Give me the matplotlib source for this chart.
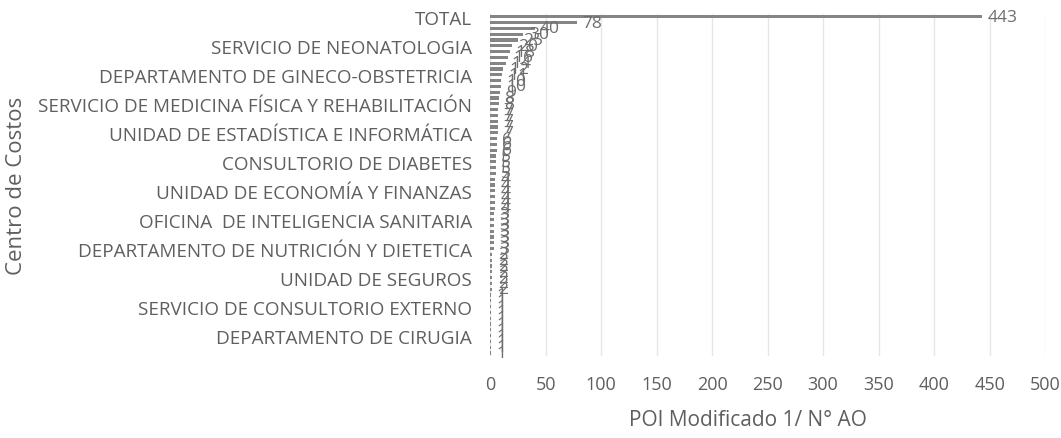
import matplotlib
matplotlib.use("Agg")
import matplotlib.pyplot as plt
import numpy as np

plt.rcParams['font.family'] = ['Open Sans', 'DejaVu Sans']

# Values (top to bottom)
values = [443, 78, 40, 30, 25, 20, 18, 16, 14, 12, 11,
          10, 10, 9, 8, 8, 7, 7, 7, 7, 7, 6, 6, 6, 5, 5, 5, 5,
          4, 4, 4, 4, 4, 4, 3, 3, 3, 3, 3, 3, 3,
          2, 2, 2, 2, 2, 2, 2,
          1, 1, 1, 1, 1, 1, 1, 1, 1, 1, 1]

# Category labels visible on the axis (every 5th bar is labelled)
shown_labels = ["TOTAL",
                "SERVICIO DE NEONATOLOGIA",
                "DEPARTAMENTO DE GINECO-OBSTETRICIA",
                "SERVICIO DE MEDICINA FÍSICA Y REHABILITACIÓN",
                "UNIDAD DE ESTADÍSTICA E INFORMÁTICA",
                "CONSULTORIO DE DIABETES",
                "UNIDAD DE ECONOMÍA Y FINANZAS",
                "OFICINA  DE INTELIGENCIA SANITARIA",
                "DEPARTAMENTO DE NUTRICIÓN Y DIETETICA",
                "UNIDAD DE SEGUROS",
                "SERVICIO DE CONSULTORIO EXTERNO",
                "DEPARTAMENTO DE CIRUGIA"]
label_step = 5

x_ticks = [0, 50, 100, 150, 200, 250, 300, 350, 400, 450, 500]

text_color = '#5f5f5f'
bar_color = '#858585'

fig = plt.figure(figsize=(10.61, 4.39), dpi=100)
ax = fig.add_axes([0.462, 0.187, 0.523, 0.779])

n = len(values)
y = np.arange(n)
ax.barh(y, values, height=0.55, color=bar_color, zorder=3)

for yi, v in zip(y, values):
    ax.text(v + 5, yi, str(v), va='center', ha='left', fontsize=12.5,
            color='#6e6e6e', zorder=4)

ax.set_ylim(n - 0.5, -0.5)
ax.set_xlim(0, 500)
ax.set_xticks(x_ticks)
ax.set_xticklabels([str(t) for t in x_ticks], fontsize=13, color=text_color)

tick_pos = list(range(0, n, label_step))[:len(shown_labels)]
ax.set_yticks(tick_pos)
ax.set_yticklabels(shown_labels, fontsize=13.6, color=text_color)
ax.tick_params(axis='both', length=0)
ax.tick_params(axis='x', pad=14)
ax.tick_params(axis='y', pad=13)

ax.grid(axis='x', color='#e6e6e6', linewidth=1, zorder=0)
for s in ax.spines.values():
    s.set_visible(False)

ax.set_xlabel("POI Modificado 1/ N° AO", fontsize=15, color=text_color)
ax.set_ylabel("Centro de Costos", fontsize=16, color=text_color)
ax.xaxis.set_label_coords(0.465, -0.155)
ax.yaxis.set_label_coords(-0.835, 0.5)

fig.savefig("out.png", dpi=100)
